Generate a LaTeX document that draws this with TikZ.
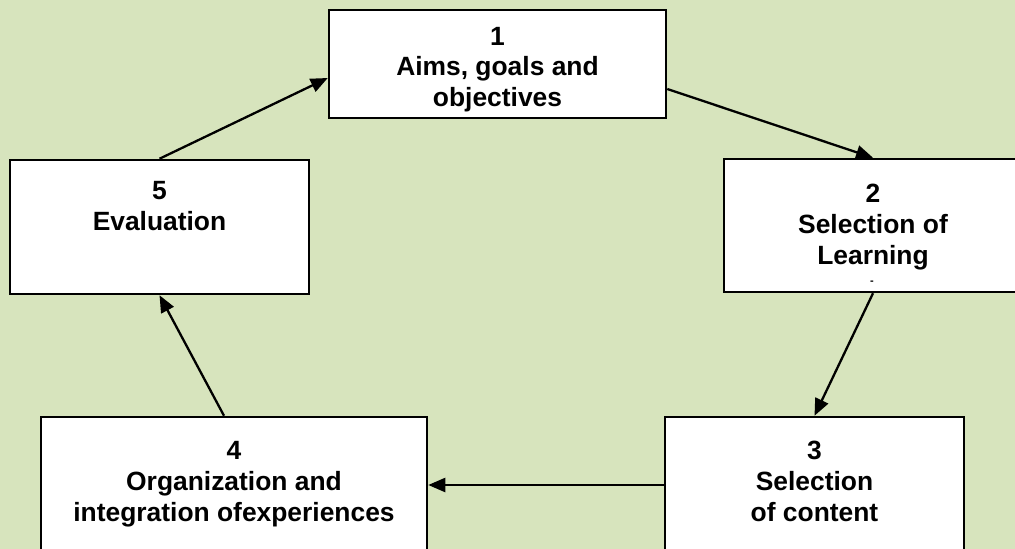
\documentclass[tikz,border=0pt]{standalone}
\usepackage{fontspec}
\setmainfont{Liberation Sans}
\usetikzlibrary{arrows.meta}
\definecolor{bggreen}{HTML}{D7E4BD}
\tikzset{
  box/.style={draw=black, fill=white, line width=2.5pt, rectangle, inner sep=0pt},
  txt/.style={align=center, inner sep=0pt, font=\bfseries\fontsize{26.4}{30.7}\selectfont},
  conn/.style={line width=2.3pt, -{Triangle[length=17pt,width=14pt]}}
}
\begin{document}
\begin{tikzpicture}[x=1pt,y=-1pt]
\useasboundingbox (0,0) rectangle (1015,549);
\clip (0,0) rectangle (1015,549);
\fill[bggreen] (0,0) rectangle (1015,549);
% boxes
\node[box, minimum width=337pt, minimum height=108pt] (b1) at (497.5,64) {};
\node[box, minimum width=298pt, minimum height=133pt] (b2) at (873,225.5) {};
\node[box, minimum width=299pt, minimum height=183pt] (b3) at (814.5,508.5) {};
\node[box, minimum width=386pt, minimum height=183pt] (b4) at (234,508.5) {};
\node[box, minimum width=299pt, minimum height=134pt] (b5) at (159.5,227) {};
% texts (base = baseline of last line)
\node[txt, anchor=base] (t1) at (497.5,106.5) {1\\Aims, goals and\\objectives};
\node[txt, anchor=base] (t2) at (873,264) {2\\Selection of\\Learning};
\node[inner sep=0pt, font=\bfseries\fontsize{11}{12}\selectfont] (t2b) at (872,283) {-};
\node[txt, anchor=base] (t3) at (814.5,521) {3\\Selection\\of content};
\node[txt, anchor=base] (t4) at (234,521) {4\\Organization and\\integration ofexperiences};
\node[txt, anchor=base] (t5) at (159.5,230) {5\\Evaluation};
% connectors
\draw[conn] (b5.north) -- ([yshift=-14pt]b1.west);
\draw[conn] ([yshift=-25pt]b1.east) -- (b2.north);
\draw[conn] (b2.south) -- (b3.north);
\draw[conn] ([yshift=23.5pt]b3.west) -- ([yshift=23.5pt]b4.east);
\draw[conn] ([xshift=-10pt]b4.north) -- (b5.south);
\end{tikzpicture}
\end{document}
